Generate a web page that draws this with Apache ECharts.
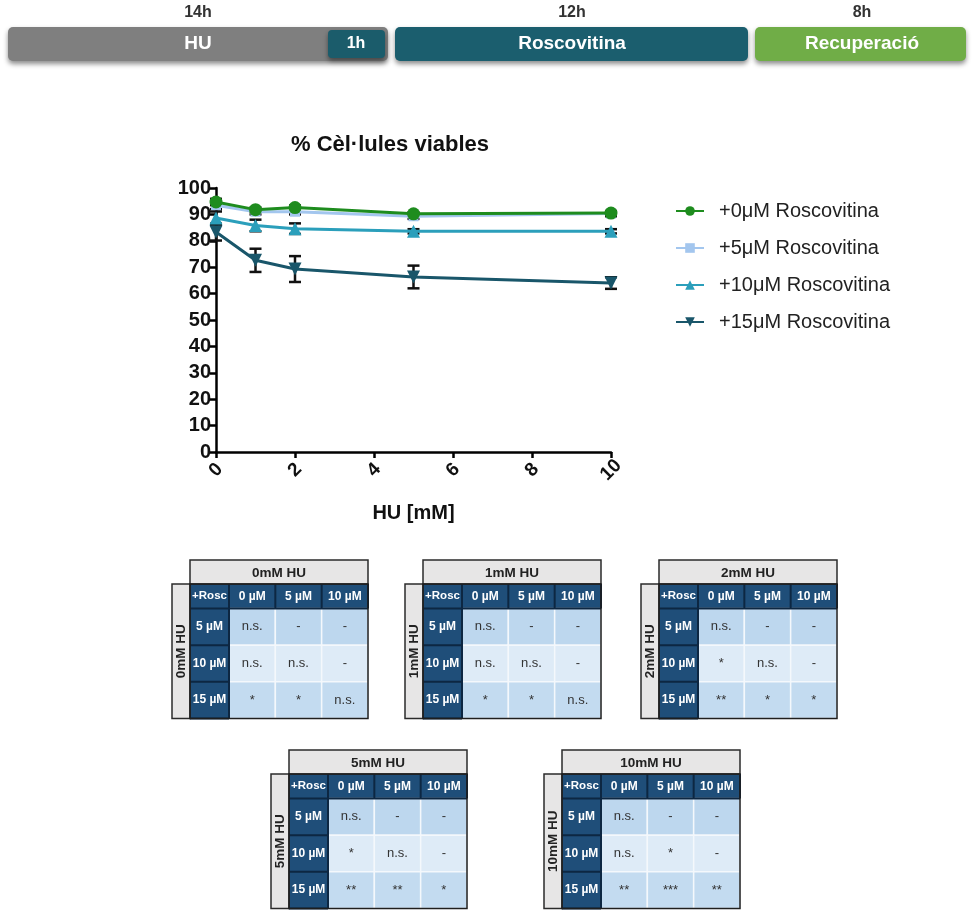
<!DOCTYPE html>
<html>
<head>
<meta charset="utf-8">
<script src="https://cdn.jsdelivr.net/npm/echarts@6/dist/echarts.min.js"></script>
<style>
  html, body { margin: 0; padding: 0; background: #fff; }
  #chart { width: 972px; height: 910px; }
</style>
</head>
<body>
<div id="chart"></div>
<script>
// ---- Data: viability curves ----
const huDoses = [0, 1, 2, 5, 10];
const seriesNames = ['+0μM Roscovitina', '+5μM Roscovitina', '+10μM Roscovitina', '+15μM Roscovitina'];
const viab0 = [94.7, 91.8, 92.6, 90.2, 90.5];
const viab5 = [93.5, 91.0, 91.0, 89.3, 90.3];
const viab10 = [88.6, 85.8, 84.6, 83.6, 83.6];
const viab15 = [83.3, 72.6, 69.3, 66.3, 64.0];
const err0 = [1.2, 0.8, 0.8, 0.6, 0.6];
const err5 = [1.5, 1.0, 1.0, 1.0, 1.0];
const err10 = [2.5, 2.2, 2.0, 0.8, 0.8];
const err15 = [3.2, 4.4, 4.9, 4.3, 2.2];
const xTicks = [0, 2, 4, 6, 8, 10];

// ---- Data: timeline ----
const phaseNames = ['HU', 'Roscovitina', 'Recuperació'];
const phaseHours = ['14h', '12h', '8h'];
const overlapLabel = '1h';

// ---- Data: significance tables ----
const tableTitles = ['0mM HU', '1mM HU', '2mM HU', '5mM HU', '10mM HU'];
const cornerLabel = '+Rosc';
const colLabels = ['0 µM', '5 µM', '10 µM'];
const rowLabels = ['5 µM', '10 µM', '15 µM'];
const sig0 = [['n.s.', '-', '-'], ['n.s.', 'n.s.', '-'], ['*', '*', 'n.s.']];
const sig1 = [['n.s.', '-', '-'], ['n.s.', 'n.s.', '-'], ['*', '*', 'n.s.']];
const sig2 = [['n.s.', '-', '-'], ['*', 'n.s.', '-'], ['**', '*', '*']];
const sig5 = [['n.s.', '-', '-'], ['*', 'n.s.', '-'], ['**', '**', '*']];
const sig10 = [['n.s.', '-', '-'], ['n.s.', '*', '-'], ['**', '***', '**']];
const sigTables = [sig0, sig1, sig2, sig5, sig10];

// ---- Styling / layout ----
const FONT = '"Liberation Sans", Arial, sans-serif';
const NARROW = '"Liberation Sans Narrow", "Liberation Sans", Arial, sans-serif';
const lineColors = ['#1e8c1e', '#a3c6ee', '#2b9fbb', '#19566a'];
const HEADER_BLUE = '#1f4e79';
const HEADER_LINE = '#0d2742';
const rowFill = ['#bdd7ee', '#deebf7', '#c3dbf0'];
const tableOrigins = [[190, 560], [423, 560], [659, 560], [289, 750], [562, 750]];
const TW = 178, TITLE_H = 24, HEAD_H = 24.5, BODY_H = 110, HCOL_W = 39, SIDE_W = 18;

const chart = echarts.init(document.getElementById('chart'), null, { renderer: 'canvas' });

const grids = [{ left: 216, top: 188, width: 395, height: 264 }];
const xAxes = [{
  type: 'value', gridIndex: 0, min: 0, max: 10, interval: 2,
  axisLine: { show: true, onZero: false, lineStyle: { color: '#000', width: 2.5 } },
  axisTick: { show: true, length: 6, lineStyle: { color: '#000', width: 2.5 } },
  splitLine: { show: false },
  axisLabel: {
    rotate: 45, align: 'center', verticalAlign: 'middle', margin: 18,
    color: '#111', fontFamily: FONT, fontWeight: 'bold', fontSize: 19,
    customValues: xTicks
  },
  name: 'HU [mM]', nameLocation: 'middle', nameGap: 51,
  nameTextStyle: { color: '#111', fontFamily: FONT, fontWeight: 'bold', fontSize: 20 }
}];
const yAxes = [{
  type: 'value', gridIndex: 0, min: 0, max: 100, interval: 10,
  axisLine: { show: true, lineStyle: { color: '#000', width: 2.5 } },
  axisTick: { show: true, length: 6, lineStyle: { color: '#000', width: 2.5 } },
  splitLine: { show: false },
  axisLabel: { color: '#111', fontFamily: FONT, fontWeight: 'bold', fontSize: 20, margin: 5 }
}];

const values = [viab0, viab5, viab10, viab15];
const errs = [err0, err5, err10, err15];
const symbols = ['circle', 'rect', 'triangle', 'triangle'];
const symbolSizes = [13, 10, 13, 13];
const symbolRot = [0, 0, 0, 180];

const series = [];
// error bars (mean ± error)
values.forEach((vals, s) => {
  series.push({
    type: 'custom', xAxisIndex: 0, yAxisIndex: 0, z: 1, silent: true,
    data: huDoses.map((x, i) => [x, vals[i] - errs[s][i], vals[i] + errs[s][i]]),
    renderItem: (params, api) => {
      const lo = api.coord([api.value(0), api.value(1)]);
      const hi = api.coord([api.value(0), api.value(2)]);
      const cap = 6;
      const st = { stroke: '#111', lineWidth: 2.5 };
      return {
        type: 'group', children: [
          { type: 'line', shape: { x1: lo[0], y1: lo[1], x2: hi[0], y2: hi[1] }, style: st },
          { type: 'line', shape: { x1: lo[0] - cap, y1: lo[1], x2: lo[0] + cap, y2: lo[1] }, style: st },
          { type: 'line', shape: { x1: hi[0] - cap, y1: hi[1], x2: hi[0] + cap, y2: hi[1] }, style: st }
        ]
      };
    }
  });
});
// curves, drawn so the 0 µM line sits on top
[1, 2, 3, 0].forEach(s => {
  series.push({
    name: seriesNames[s], type: 'line', xAxisIndex: 0, yAxisIndex: 0, z: 3,
    data: huDoses.map((x, i) => [x, values[s][i]]),
    symbol: symbols[s], symbolSize: symbolSizes[s], symbolRotate: symbolRot[s],
    showAllSymbol: true,
    lineStyle: { color: lineColors[s], width: 3 },
    itemStyle: { color: lineColors[s] }
  });
});

// ---- graphic: timeline + table furniture ----
const graphic = [];
const shadow = { shadowBlur: 5, shadowOffsetY: 3, shadowColor: 'rgba(0,0,0,0.45)' };
function barText(t, x, y, size) {
  return { type: 'text', x: x, y: y, z: 20, style: { text: t, fill: '#fff', font: 'bold ' + size + 'px ' + NARROW, align: 'center', verticalAlign: 'middle' } };
}
function hourText(t, x) {
  return { type: 'text', x: x, y: 13, style: { text: t, fill: '#333', font: 'bold 16px ' + NARROW, align: 'center', verticalAlign: 'middle' } };
}
// HU phase
graphic.push({ type: 'rect', shape: { x: 8, y: 27, width: 380, height: 34, r: 5 }, z: 5, style: Object.assign({ fill: '#7f7f7f' }, shadow) });
graphic.push({ type: 'rect', shape: { x: 328, y: 30, width: 57, height: 28, r: 4 }, z: 6, style: Object.assign({ fill: '#1b5c6b' }, shadow) });
graphic.push(barText(phaseNames[0], 198, 44, 19));
graphic.push(barText(overlapLabel, 356, 44, 16));
graphic.push(hourText(phaseHours[0], 198));
// Roscovitine phase
graphic.push({ type: 'rect', shape: { x: 395, y: 27, width: 353, height: 34, r: 5 }, z: 5, style: Object.assign({ fill: '#1b5e6e' }, shadow) });
graphic.push(barText(phaseNames[1], 572, 44, 19));
graphic.push(hourText(phaseHours[1], 572));
// Recovery phase
graphic.push({ type: 'rect', shape: { x: 755, y: 27, width: 211, height: 34, r: 5 }, z: 5, style: Object.assign({ fill: '#70ad47' }, shadow) });
graphic.push(barText(phaseNames[2], 862, 44, 19));
graphic.push(hourText(phaseHours[2], 862));

// tables
tableOrigins.forEach(([x0, y0], t) => {
  const hTop = y0 + TITLE_H;
  const bTop = hTop + HEAD_H;
  const bBot = bTop + BODY_H;
  const colW = (TW - HCOL_W) / 3;
  const rowH = BODY_H / 3;
  // title bar
  graphic.push({ type: 'rect', z: 10, shape: { x: x0, y: y0, width: TW, height: TITLE_H }, style: { fill: '#e7e6e6', stroke: '#2b2b2b', lineWidth: 1.5 } });
  graphic.push({ type: 'text', z: 11, x: x0 + TW / 2, y: y0 + TITLE_H / 2 + 1, style: { text: tableTitles[t], fill: '#222', font: 'bold 13.5px ' + FONT, align: 'center', verticalAlign: 'middle' } });
  // side label box
  graphic.push({ type: 'rect', z: 10, shape: { x: x0 - SIDE_W, y: hTop, width: SIDE_W, height: bBot - hTop }, style: { fill: '#e7e6e6', stroke: '#2b2b2b', lineWidth: 1.5 } });
  graphic.push({ type: 'text', z: 11, x: x0 - SIDE_W / 2, y: (hTop + bBot) / 2, rotation: Math.PI / 2, style: { text: tableTitles[t], fill: '#222', font: 'bold 13.5px ' + FONT, align: 'center', verticalAlign: 'middle' } });
  // header backgrounds
  graphic.push({ type: 'rect', z: -10, shape: { x: x0, y: hTop, width: TW, height: HEAD_H }, style: { fill: HEADER_BLUE } });
  graphic.push({ type: 'rect', z: -10, shape: { x: x0, y: hTop, width: HCOL_W, height: bBot - hTop }, style: { fill: HEADER_BLUE } });
  graphic.push({ type: 'text', z: 11, x: x0 + HCOL_W / 2, y: hTop + HEAD_H / 2, style: { text: cornerLabel, fill: '#fff', font: 'bold 11.5px ' + FONT, align: 'center', verticalAlign: 'middle' } });
  // header separators
  for (let c = 0; c <= 3; c++) {
    const xx = x0 + HCOL_W + c * colW;
    graphic.push({ type: 'line', z: 10, shape: { x1: xx, y1: hTop, x2: xx, y2: c === 0 ? bBot : bTop }, style: { stroke: HEADER_LINE, lineWidth: 2 } });
  }
  for (let r = 0; r <= 3; r++) {
    const yy = bTop + r * rowH;
    graphic.push({ type: 'line', z: 10, shape: { x1: x0, y1: yy, x2: r === 0 ? x0 + TW : x0 + HCOL_W, y2: yy }, style: { stroke: HEADER_LINE, lineWidth: 2 } });
  }
  // outer border
  graphic.push({ type: 'rect', z: 12, shape: { x: x0, y: hTop, width: TW, height: bBot - hTop }, style: { fill: 'none', stroke: '#1e1e1e', lineWidth: 1.5 } });

  // grid for the significance cells
  const gi = grids.length;
  grids.push({ left: x0 + HCOL_W, top: bTop, width: TW - HCOL_W, height: BODY_H });
  xAxes.push({
    type: 'category', gridIndex: gi, position: 'top', data: colLabels,
    axisLine: { show: false }, axisTick: { show: false }, splitLine: { show: false },
    axisLabel: { color: '#fff', fontFamily: FONT, fontWeight: 'bold', fontSize: 12, margin: HEAD_H / 2, verticalAlign: 'middle', align: 'center', interval: 0 }
  });
  yAxes.push({
    type: 'category', gridIndex: gi, inverse: true, data: rowLabels,
    axisLine: { show: false }, axisTick: { show: false }, splitLine: { show: false },
    axisLabel: { color: '#fff', fontFamily: FONT, fontWeight: 'bold', fontSize: 12, margin: HCOL_W / 2, align: 'center', verticalAlign: 'middle', interval: 0 }
  });
  const tbl = sigTables[t];
  const cells = [];
  tbl.forEach((row, r) => row.forEach((txt, c) => cells.push([c, r])));
  series.push({
    type: 'custom', xAxisIndex: gi, yAxisIndex: gi, z: 2, silent: true,
    data: cells,
    renderItem: (params, api) => {
      const c = api.value(0), r = api.value(1);
      const p = api.coord([c, r]);
      const s = api.size([1, 1]);
      return {
        type: 'rect',
        shape: { x: p[0] - s[0] / 2, y: p[1] - s[1] / 2, width: s[0], height: s[1] },
        style: { fill: rowFill[r], stroke: '#f4f8fc', lineWidth: 1.5 },
        textContent: { style: { text: tbl[r][c], fill: '#333', font: '13px ' + FONT } },
        textConfig: { position: 'inside' }
      };
    }
  });
});

chart.setOption({
  animation: false,
  backgroundColor: '#fff',
  title: {
    text: '% Cèl·lules viables', left: 385, top: 129, textAlign: 'center',
    textStyle: { fontFamily: FONT, fontWeight: 'bold', fontSize: 22, color: '#111' }
  },
  legend: {
    data: seriesNames, orient: 'vertical', left: 670, top: 196,
    itemWidth: 28, itemHeight: 12, itemGap: 17,
    textStyle: { fontFamily: FONT, fontSize: 20, color: '#222', padding: [0, 0, 0, 10] }
  },
  grid: grids,
  xAxis: xAxes,
  yAxis: yAxes,
  series: series,
  graphic: { elements: graphic }
});
</script>
</body>
</html>
